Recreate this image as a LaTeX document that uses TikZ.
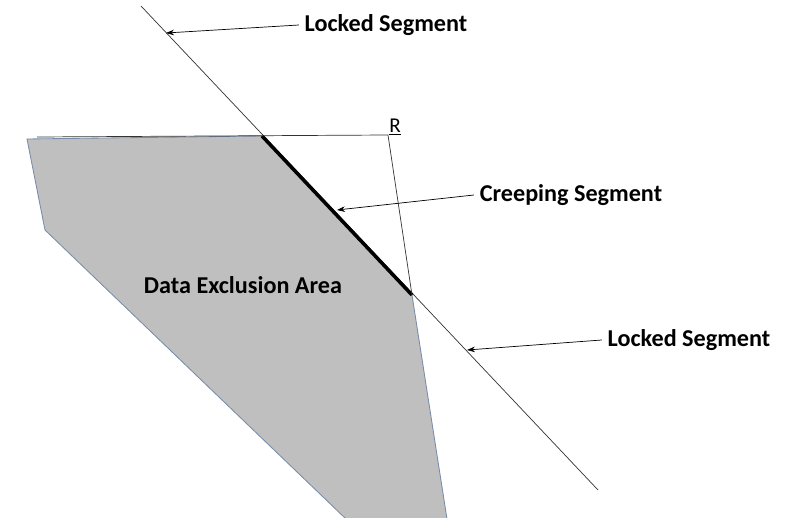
\documentclass[tikz,border=0pt]{standalone}
\usepackage{fontspec}
\setmainfont{Carlito}
\usetikzlibrary{arrows.meta, positioning, calc}
\definecolor{arealine}{RGB}{120,140,168}
\tikzset{
  lbl/.style={font=\bfseries\fontsize{17.2}{20}\selectfont, inner sep=4pt},
  arr/.style={-{Stealth[length=2mm, width=1.4mm]}, line width=0.5pt},
  area/.style={fill=gray!50, draw=arealine, line width=0.6pt},
  edge/.style={draw=black!80, line width=0.5pt},
}

\begin{document}
\begin{tikzpicture}[x=0.025cm, y=-0.025cm]
    \useasboundingbox (0,0) rectangle (798,518);
    % exclusion area
    \coordinate (p1) at (27,139);
    \coordinate (p2) at (262,136);
    \coordinate (p3) at (412,295);
    \coordinate (p4) at (447,519);
    \coordinate (p5) at (346,519);
    \coordinate (p6) at (45,230);
    \draw[area] (p1) -- (p2) -- (p3) -- (p4) -- (p5) -- (p6) -- cycle;
    \node[lbl] (area) at (243,285) {Data Exclusion Area};
    % boundary line
    \coordinate (top) at (141,6);
    \coordinate (bot) at (598,490);
    \draw[edge] (top) -- (bot);
    \draw[line width=2.5pt] (p2) -- (p3);
    % R construction
    \coordinate (h0) at (37,137);
    \coordinate (rc) at (388,135);
    \draw[edge] (h0) -- (rc) -- (p3);
    \node[font=\fontsize{15}{17}\selectfont, inner sep=1pt] (r) at (395,127) {\underline{R}};
    % labels
    \node[lbl] (lock1) at (386,25) {Locked Segment};
    \node[lbl] (creep) at (571,195) {Creeping Segment};
    \node[lbl] (lock2) at (689,340) {Locked Segment};
    \coordinate (t1) at (166,33);
    \coordinate (t2) at (337,210);
    \coordinate (t3) at (467,350);
    \draw[arr] (lock1.west) -- (t1);
    \draw[arr] (creep.west) -- (t2);
    \draw[arr] (lock2.west) -- (t3);
\end{tikzpicture}
\end{document}
